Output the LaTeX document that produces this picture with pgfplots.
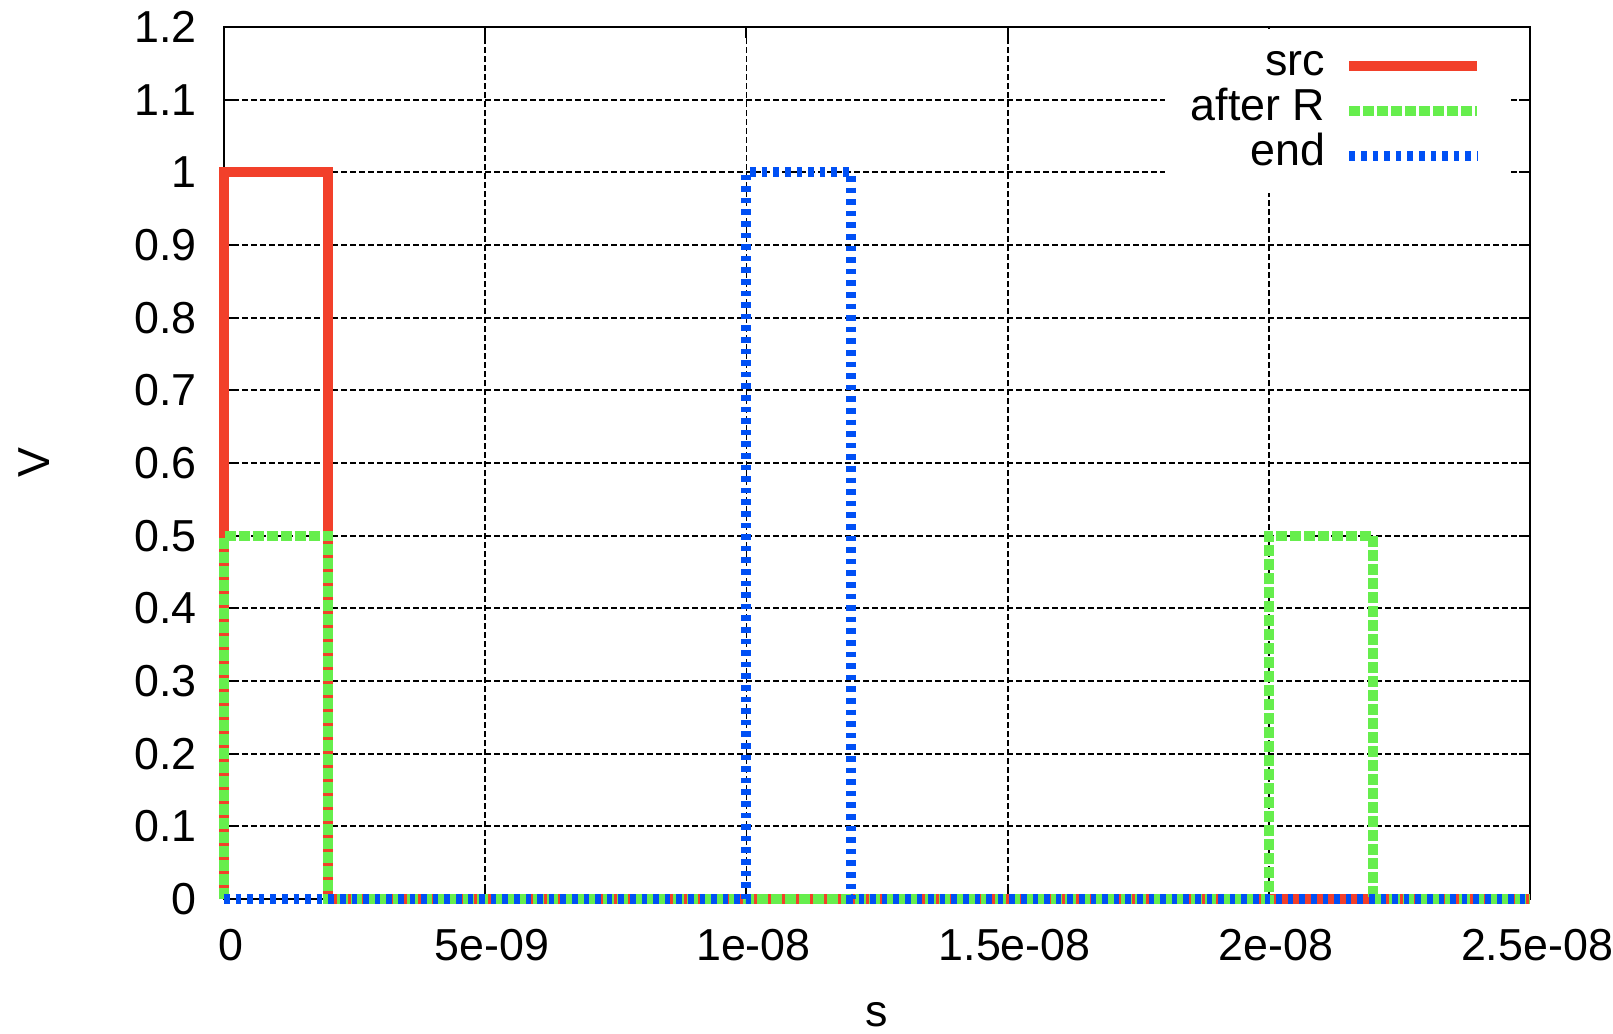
\documentclass[border=0pt]{standalone}
\usepackage{fontspec}
\setmainfont{Liberation Sans}
\usepackage{pgfplots}
\pgfplotsset{compat=1.18}
\definecolor{cred}{RGB}{242,64,42}
\definecolor{cgreen}{RGB}{102,238,77}
\definecolor{cblue}{RGB}{0,80,245}
\pgfplotsset{every axis/.append style={legend image code/.code={\draw[#1] (0pt,0pt) -- (32pt,0pt);}}}
\begin{document}
\begin{tikzpicture}[font=\fontsize{11.2}{13.4}\selectfont]
\begin{axis}[
  scale only axis,
  width=326.5pt, height=218pt,
  xmin=0, xmax=2.5e-8, ymin=0, ymax=1.2,
  clip=false,
  scaled x ticks=false, scaled y ticks=false,
  /pgf/number format/assume math mode=true,
  xtick={0,5e-9,1e-8,1.5e-8,2e-8,2.5e-8},
  xticklabels={0,5e-09,1e-08,1.5e-08,2e-08,2.5e-08},
  ytick={0,0.1,0.2,0.3,0.4,0.5,0.6,0.7,0.8,0.9,1,1.1,1.2},
  yticklabels={0,0.1,0.2,0.3,0.4,0.5,0.6,0.7,0.8,0.9,1,1.1,1.2},
  tick align=inside, tick pos=both,
  major tick length=2.75pt,
  every tick/.style={black, line width=0.5pt},
  axis line style={black, line width=0.5pt},
  grid=major,
  major grid style={black, line width=0.45pt, dash pattern=on 1.5pt off 0.75pt},
  xticklabel style={inner sep=0pt, anchor=north, yshift=-7.3pt, xshift=1.75pt},
  yticklabel style={inner sep=0pt, anchor=east, xshift=-6.6pt},
  xlabel={s}, ylabel={V},
  xlabel style={at={(axis description cs:0.5,0)}, anchor=center, yshift=-29pt},
  ylabel style={at={([xshift=-47.5pt]axis description cs:0,0.5)}, anchor=center},
  legend cell align=right,
  legend plot pos=right,
  legend style={at={([xshift=1.8pt,yshift=-0.2pt]rel axis cs:0.9786,1)}, anchor=north east, draw=none, fill=white,
    inner xsep=6.5pt, inner ysep=3.6pt, column sep=4.8pt, row sep=0pt,
    nodes={inner sep=0pt, text height=8.1pt, text depth=3.2pt}},
]
\addplot[cred, line width=2.5pt, line cap=butt, line join=miter]
  coordinates {(0,0) (0,1) (2e-9,1) (2e-9,0) (2.5e-8,0)};
\addlegendentry{src}
\addplot[cgreen, line width=2.5pt, line cap=butt, line join=miter, dash pattern=on 2.75pt off 0.75pt]
  coordinates {(0,0) (0,0.5) (2e-9,0.5) (2e-9,0) (2e-8,0) (2e-8,0.5) (2.2e-8,0.5) (2.2e-8,0) (2.5e-8,0)};
\addlegendentry{after R}
\addplot[cblue, line width=2.5pt, line cap=butt, line join=miter, dash pattern=on 1.4pt off 1.5pt]
  coordinates {(0,0) (1e-8,0) (1e-8,1) (1.2e-8,1) (1.2e-8,0) (2.5e-8,0)};
\addlegendentry{end}
\coordinate (bl) at (rel axis cs:0,0);
\coordinate (tr) at (rel axis cs:1,1);
\end{axis}
\pgfresetboundingbox
\path[use as bounding box] ([xshift=-56pt,yshift=-33.5pt]bl) rectangle ([xshift=20.75pt,yshift=6.75pt]tr);
\end{tikzpicture}
\end{document}
